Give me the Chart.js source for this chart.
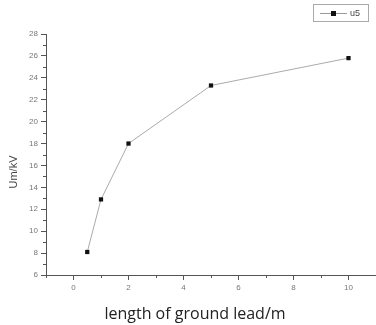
<!DOCTYPE html>
<html>
<head>
<meta charset="utf-8">
<script src="https://cdn.jsdelivr.net/npm/chart.js@4"></script>
<style>
  html, body { margin: 0; padding: 0; background: #fff; overflow: hidden; }
  #wrap { width: 376px; height: 325px; position: relative; }
</style>
</head>
<body>
<div id="wrap"><canvas id="chart"></canvas></div>
<script>
// ground lead length (m) vs. voltage (kV)
const leadLength = [0.5, 1, 2, 5, 10];
const voltage = [8.1, 12.9, 18, 23.3, 25.8];
const xTickValues = [0, 2, 4, 6, 8, 10];
const seriesName = "u5";
const xTitle = "length of ground lead/m";
const yTitle = "Um/kV";

const axisColor = "#555";
const tickFont = { family: "Liberation Sans", size: 8 };

// minor ticks (every unit) plus the two axis titles and the framed legend
const extras = {
  id: "extras",
  afterDraw(chart) {
    const { ctx, chartArea, scales } = chart;
    ctx.save();
    ctx.strokeStyle = axisColor;
    ctx.lineWidth = 1;
    ctx.beginPath();
    for (let v = -1; v <= 11; v += 2) {
      const x = Math.round(scales.x.getPixelForValue(v)) + 0.5;
      ctx.moveTo(x, chartArea.bottom);
      ctx.lineTo(x, chartArea.bottom + 3);
    }
    for (let v = 7; v <= 27; v += 2) {
      const y = Math.round(scales.y.getPixelForValue(v)) + 0.5;
      ctx.moveTo(chartArea.left, y);
      ctx.lineTo(chartArea.left - 3, y);
    }
    ctx.stroke();

    ctx.fillStyle = "#222";
    ctx.font = "16px 'Open Sans'";
    ctx.textAlign = "center";
    ctx.textBaseline = "alphabetic";
    ctx.fillText(xTitle, 195, 319);

    ctx.save();
    ctx.translate(14, 172);
    ctx.rotate(-Math.PI / 2);
    ctx.fillStyle = "#444";
    ctx.textBaseline = "middle";
    ctx.font = "11px 'Liberation Sans'";
    ctx.fillText(yTitle, 0, 0);
    ctx.restore();

    // legend
    ctx.strokeStyle = "#aaa";
    ctx.strokeRect(313.5, 4.5, 55, 17);
    ctx.strokeStyle = "#999";
    ctx.beginPath();
    ctx.moveTo(320, 13.5);
    ctx.lineTo(347, 13.5);
    ctx.stroke();
    ctx.fillStyle = "#111";
    ctx.fillRect(331, 11, 5, 5);
    ctx.fillStyle = "#444";
    ctx.font = "9px 'Liberation Sans'";
    ctx.textAlign = "left";
    ctx.textBaseline = "middle";
    ctx.fillText(seriesName, 350, 13.5);
    ctx.restore();
  }
};

new Chart(document.getElementById("chart"), {
  type: "scatter",
  data: {
    datasets: [{
      label: seriesName,
      data: leadLength.map((x, i) => ({ x, y: voltage[i] })),
      showLine: true,
      borderColor: "#aaa",
      borderWidth: 1,
      pointStyle: "rect",
      pointRadius: 3,
      pointBackgroundColor: "#111",
      pointBorderColor: "#111",
      pointBorderWidth: 0
    }]
  },
  options: {
    responsive: true,
    maintainAspectRatio: false,
    animation: false,
    layout: { autoPadding: false, padding: { top: 34, right: 0, left: 0, bottom: 0 } },
    plugins: {
      legend: { display: false },
      tooltip: { enabled: false }
    },
    scales: {
      x: {
        type: "linear",
        min: -1,
        max: 11,
        afterFit: s => { s.height = 50; s.paddingRight = 0; s.paddingLeft = 0; },
        afterBuildTicks: s => { s.ticks = xTickValues.map(value => ({ value })); },
        border: { color: axisColor, width: 1 },
        grid: { drawOnChartArea: false, tickLength: 5, tickColor: axisColor },
        ticks: {
          autoSkip: false,
          color: "#777",
          font: tickFont,
          padding: 3,
          maxRotation: 0
        }
      },
      y: {
        min: 6,
        max: 28,
        afterFit: s => { s.width = 46; },
        border: { color: axisColor, width: 1 },
        grid: { drawOnChartArea: false, tickLength: 5, tickColor: axisColor },
        ticks: {
          stepSize: 2,
          color: "#777",
          font: tickFont,
          padding: 3
        }
      }
    }
  },
  plugins: [extras]
});
</script>
</body>
</html>
